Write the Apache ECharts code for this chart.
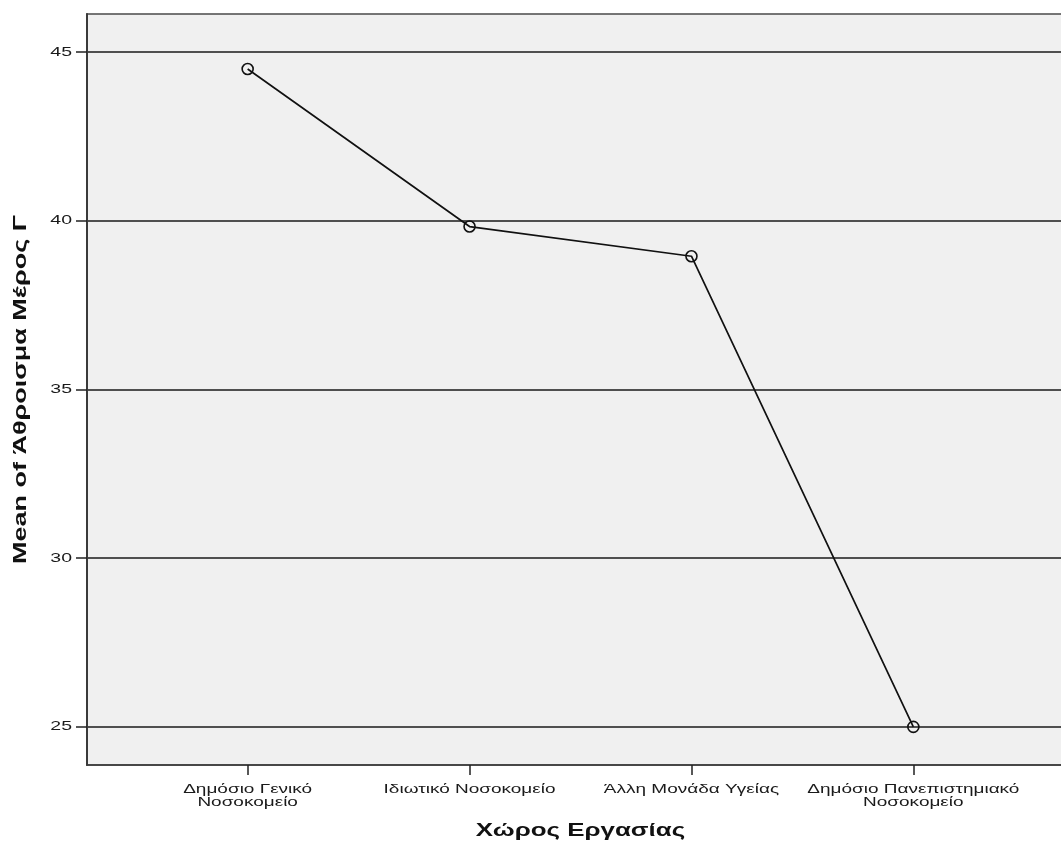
<!DOCTYPE html>
<html>
<head>
<meta charset="utf-8">
<script src="https://cdn.jsdelivr.net/npm/echarts@6/dist/echarts.min.js"></script>
<style>
html,body{margin:0;padding:0;background:#fff;}
#chart{width:1061px;height:865px;}
</style>
</head>
<body>
<div id="chart"></div>
<script>
const categories = ["Δημόσιο Γενικό\nΝοσοκομείο", "Ιδιωτικό Νοσοκομείο", "Άλλη Μονάδα Υγείας", "Δημόσιο Πανεπιστημιακό\nΝοσοκομείο"];
const meanValues = [44.5, 39.83, 38.95, 25.0];
const yTicks = [25, 30, 35, 40, 45];
const xTitle = "Χώρος Εργασίας";
const yTitle = "Mean of Άθροισμα Μέρος Γ";

const X_MIN = -0.724, X_MAX = 3.724, Y_MIN = 23.87, Y_MAX = 46.13;
const catIdx = categories.map((c, i) => i);
const font = "'Liberation Sans', Arial, sans-serif";

const chart = echarts.init(document.getElementById('chart'), null, {renderer: 'canvas'});
const option = {
  animation: false,
  backgroundColor: '#ffffff',
  grid: {
    left: 87, top: 14, width: 987, bottom: 100,
    outerBoundsMode: 'none',
    show: true, backgroundColor: '#f0f0f0', borderColor: '#4a4a4a', borderWidth: 1.5,
    containLabel: false
  },
  xAxis: {
    type: 'value', min: X_MIN, max: X_MAX,
    axisLine: {show: true, onZero: false, lineStyle: {color: '#3a3a3a', width: 1.5}},
    axisTick: {show: true, length: 10, customValues: catIdx, lineStyle: {color: '#222', width: 1.5}},
    axisLabel: {show: false},
    splitLine: {show: false}
  },
  yAxis: {
    type: 'value', min: Y_MIN, max: Y_MAX,
    axisLine: {show: true, onZero: false, lineStyle: {color: '#3a3a3a', width: 2}},
    axisTick: {show: true, length: 11, customValues: yTicks, lineStyle: {color: '#222', width: 1.5}},
    axisLabel: {show: false},
    splitLine: {show: true, lineStyle: {color: '#1a1a1a', width: 1.6}}
  },
  series: [{
    type: 'line',
    data: meanValues.map((v, i) => [i, v]),
    symbol: 'circle',
    symbolSize: 11,
    lineStyle: {color: '#111', width: 1.7},
    itemStyle: {color: 'rgba(0,0,0,0)', borderColor: '#111', borderWidth: 1.6},
    z: 5
  }]
};
chart.setOption(option);

// Wide (horizontally stretched) text, as in the reference, placed through the axis scales
const toPx = (x, y) => chart.convertToPixel({xAxisIndex: 0, yAxisIndex: 0}, [x, y]);
const graphics = [];
const bottomLeft = toPx(X_MIN, Y_MIN);
const topRight = toPx(X_MAX, Y_MAX);
categories.forEach((c, i) => {
  const p = toPx(i, Y_MIN);
  graphics.push({
    type: 'text', x: p[0], y: p[1] + 18, scaleX: 1.46, z: 10,
    style: {text: c, fontFamily: font, fontSize: 13, lineHeight: 13, fill: '#1a1a1a', align: 'center', verticalAlign: 'top'}
  });
});
yTicks.forEach(v => {
  const p = toPx(X_MIN, v);
  graphics.push({
    type: 'text', x: p[0] - 15, y: p[1], scaleX: 1.5, z: 10,
    style: {text: String(v), fontFamily: font, fontSize: 13, fill: '#1a1a1a', align: 'right', verticalAlign: 'middle'}
  });
});
const cx = (bottomLeft[0] + topRight[0]) / 2;
graphics.push({
  type: 'text', x: cx, y: bottomLeft[1] + 66, scaleX: 1.44, z: 10,
  style: {text: xTitle, fontFamily: font, fontSize: 18, fontWeight: 'bold', fill: '#111', align: 'center', verticalAlign: 'middle'}
});
graphics.push({
  type: 'text', x: bottomLeft[0] - 66, y: (bottomLeft[1] + topRight[1]) / 2, rotation: Math.PI / 2, scaleX: 1.5, z: 10,
  style: {text: yTitle, fontFamily: font, fontSize: 18, fontWeight: 'bold', fill: '#111', align: 'center', verticalAlign: 'middle'}
});
chart.setOption({graphic: graphics});
</script>
</body>
</html>
